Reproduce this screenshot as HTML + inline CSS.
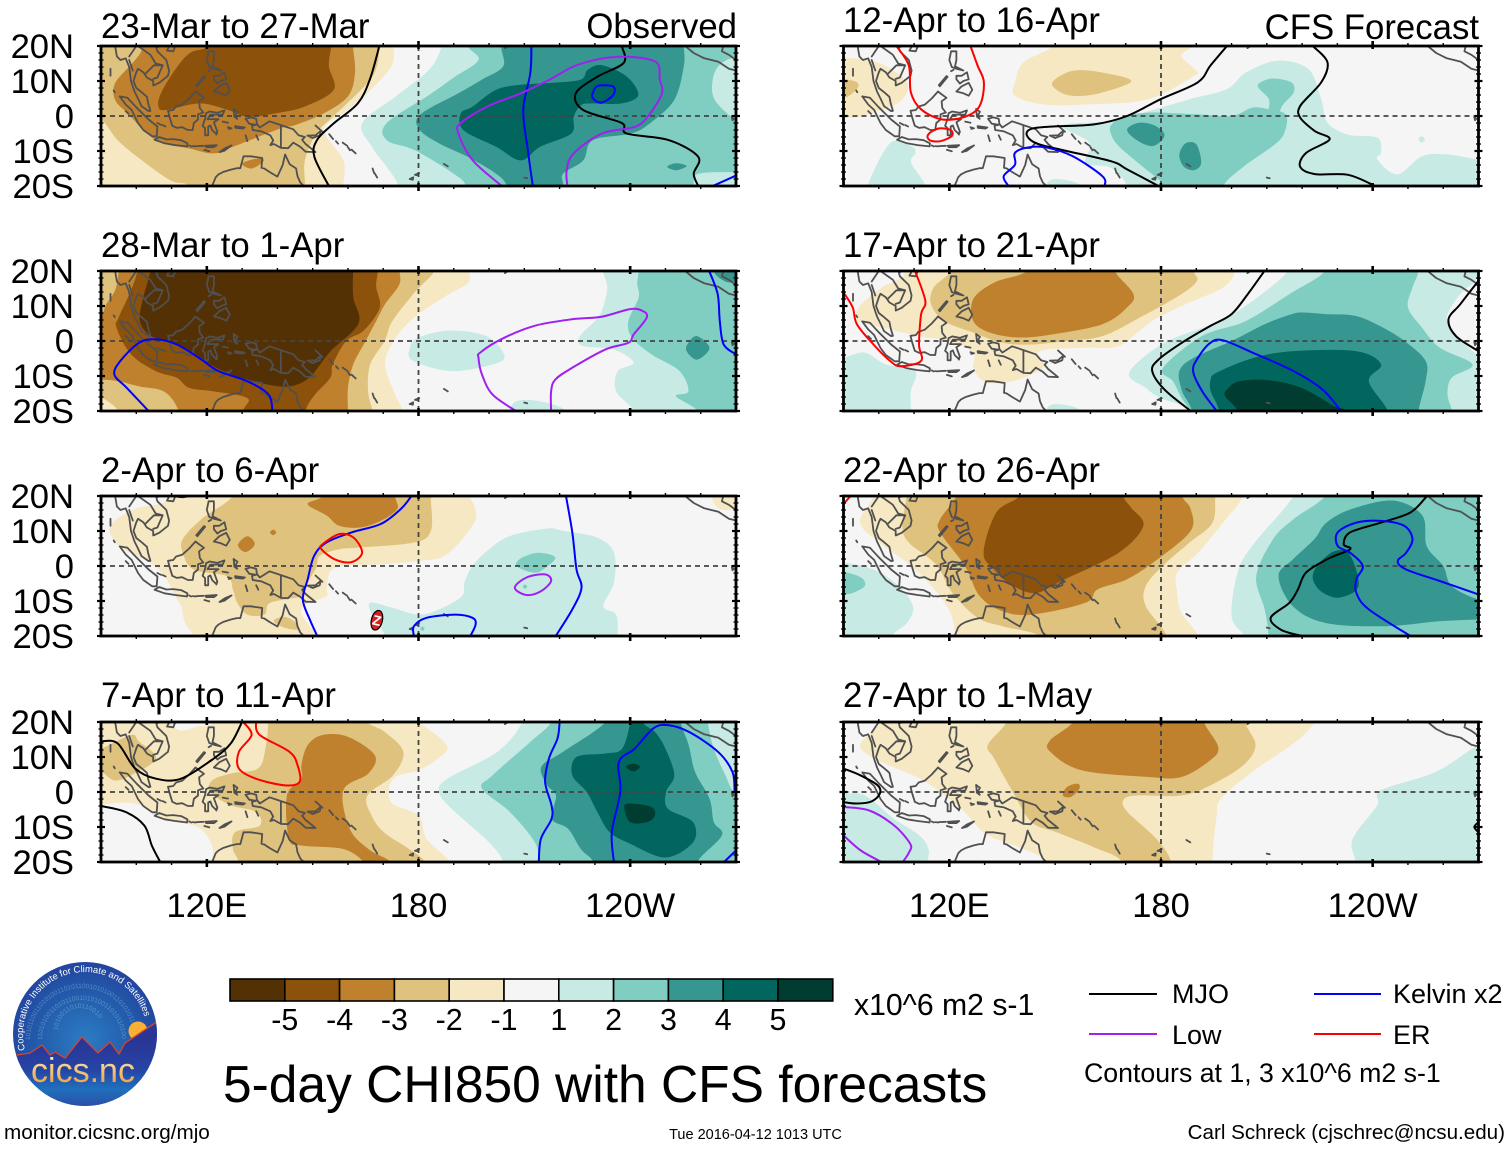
<!DOCTYPE html>
<html lang="en">
<head>
<meta charset="utf-8">
<title>5-day CHI850 with CFS forecasts</title>
<style>
html,body{margin:0;padding:0;background:#fff;}
svg{display:block;font-family:"Liberation Sans",Arial,sans-serif;}
</style>
</head>
<body>
<svg id="chart" xmlns="http://www.w3.org/2000/svg" width="1510" height="1149" viewBox="0 0 1510 1149">
  <defs>
    <clipPath id="logo-clip"><circle cx="85" cy="1034" r="72"/></clipPath>
    <radialGradient id="sky" gradientUnits="userSpaceOnUse" cx="85" cy="1040" r="85">
      <stop offset="0" stop-color="#2c7cc2"/><stop offset="0.6" stop-color="#2259aa"/><stop offset="1" stop-color="#243f9c"/>
    </radialGradient>
    <linearGradient id="ground" gradientUnits="userSpaceOnUse" x1="0" y1="1040" x2="0" y2="1106">
      <stop offset="0" stop-color="#2a3596"/><stop offset="0.45" stop-color="#2544a4"/><stop offset="0.75" stop-color="#1f70bd"/><stop offset="1" stop-color="#2b4ea6"/>
    </linearGradient>
    <linearGradient id="cics" gradientUnits="userSpaceOnUse" x1="0" y1="1056" x2="0" y2="1084">
      <stop offset="0" stop-color="#ffe9a8"/><stop offset="1" stop-color="#eda04a"/>
    </linearGradient>
    <path id="logo-arc" d="M25.1 1050 A62 62 0 1 1 145.4 1020"/>
    <path id="logo-ring-1" d="M30 1040 A52 52 0 1 1 134 1040"/>
    <path id="logo-ring-2" d="M42 1040 A40 40 0 1 1 122 1040"/>
    <path id="logo-ring-3" d="M58 1030 A22 22 0 1 1 102 1030"/>
  </defs>
  <rect x="0" y="0" width="1510" height="1149" fill="#ffffff"/>
  <g id="panels"></g>

  <g>
    <g id="colorbar-cells"></g>
    <g id="colorbar-labels" font-size="30.4" text-anchor="middle" fill="#000"></g>
    <text x="854" y="1015" font-size="30.2">x10^6 m2 s-1</text>
  </g>

  <g font-size="27" fill="#000">
    <line x1="1089" y1="994" x2="1157" y2="994" stroke="#000000" stroke-width="2"/>
    <text x="1172" y="1003">MJO</text>
    <line x1="1089" y1="1034" x2="1157" y2="1034" stroke="#a020f0" stroke-width="2"/>
    <text x="1172" y="1044">Low</text>
    <line x1="1314" y1="994" x2="1381" y2="994" stroke="#0000ff" stroke-width="2"/>
    <text x="1393" y="1003">Kelvin x2</text>
    <line x1="1314" y1="1034" x2="1381" y2="1034" stroke="#ff0000" stroke-width="2"/>
    <text x="1393" y="1044">ER</text>
    <text x="1084" y="1082" font-size="26.7">Contours at 1, 3 x10^6 m2 s-1</text>
  </g>

  <text x="223" y="1102" font-size="51.5" fill="#000">5-day CHI850 with CFS forecasts</text>
  <text x="4" y="1139" font-size="20.7" fill="#000">monitor.cicsnc.org/mjo</text>
  <text x="755.5" y="1139" font-size="14.5" text-anchor="middle" fill="#000">Tue 2016-04-12 1013 UTC</text>
  <text x="1505" y="1139" font-size="20.6" text-anchor="end" fill="#000">Carl Schreck (cjschrec@ncsu.edu)</text>

  <g>
    <g clip-path="url(#logo-clip)">
      <rect x="10" y="960" width="150" height="150" fill="url(#sky)"/>
      <g fill="#9cc3e8" opacity="0.45" font-size="6.5">
        <text><textPath href="#logo-ring-1">1010110011010100110101100101010011010101101001101010</textPath></text>
        <text><textPath href="#logo-ring-2">110101001101011001010100110101101001</textPath></text>
        <text><textPath href="#logo-ring-3">1010011010110010</textPath></text>
      </g>
      <circle cx="138" cy="1031" r="9.5" fill="#fbb034"/>
      <polygon fill="url(#ground)" stroke="#d8452a" stroke-width="1.3" points="10,1056 17,1055 30,1053 42,1045 50,1055 55,1052 65,1058 82,1037 98,1053 110,1042 119,1054 125,1043 158,1021 165,1021 165,1112 10,1112"/>
    </g>
    <text fill="#ffffff" font-size="9.4"><textPath href="#logo-arc">Cooperative Institute for Climate and Satellites</textPath></text>
    <text x="83" y="1082" font-size="34" text-anchor="middle" fill="url(#cics)">cics.nc</text>
  </g>
</svg>

<script>
/* ---------- shared scales and labels ---------- */
const lonMin = 90;
const lonMax = 270;
const latMin = -20;
const latMax = 20;
const lonTickValues = [120, 180, 240];
const lonTickLabels = ["120E", "180", "120W"];
const latTickValues = [20, 10, 0, -10, -20];
const latTickLabels = ["20N", "10N", "0", "10S", "20S"];
const panelTitles = ["23-Mar to 27-Mar", "28-Mar to 1-Apr", "2-Apr to 6-Apr", "7-Apr to 11-Apr", "12-Apr to 16-Apr", "17-Apr to 21-Apr", "22-Apr to 26-Apr", "27-Apr to 1-May"];
const colorLevels = [-6, -5, -4, -3, -2, -1, 1, 2, 3, 4, 5];
const colorValues = ["#543005", "#8c510a", "#bf812d", "#dfc27d", "#f6e8c3", "#f5f5f5", "#c7eae5", "#80cdc1", "#35978f", "#01665e", "#003c30"];
const colorbarLabels = ["-5", "-4", "-3", "-2", "-1", "1", "2", "3", "4", "5"];

/* Shading contours: [level, [lon, lat, lon, lat, ...]]. Level -5 is the darkest brown, 5 darkest green; 0 is neutral. */
const p1Fills = [
 [-1,[85,26,173,26,173,20,172.3,14.2,165.5,6.5,158.7,.8,153.2,-4,158.7,-12.7,158.7,-20,159,-26,85,-26]],
 [-2,[85,-1,90,-1,94.8,-7,101.6,-12.7,109.7,-18.4,115,-20,115,-26,147,-26,147.8,-20,147.8,-12.7,151,-5,156,0,165.5,9.4,168.2,14.2,169,20,170,26,85,26]],
 [-3,[103,26,101.6,19,99,15.2,94,9.4,94,4.6,97.5,.8,105.6,-6.9,115.2,-9.3,122,-10.7,127.4,-8.8,141,-3.5,145,-2.6,153.2,.8,160,5.6,162,12.3,161.4,20,161,26]],
 [-3,[130,-13.6,134,-12.2,136.2,-12.7,132.8,-15]],
 [-4,[122,26,120.6,20,115.2,18,111,13.2,107,6.5,106.3,2.7,108.4,1.7,118,3.6,126,1.7,131.5,-.2,139.6,.8,147.8,2.7,156,7.5,154.6,14.2,155.3,20,156,26]],
 [1,[187,26,186.6,20,183,13.2,173.6,5.6,164,-2,166.8,-8.8,171,-14.6,174.3,-20,174,-26,275,-26,275,26]],
 [2,[194,26,194,20,197,16,190,11,183,6,171,-2,171,-6.9,179,-9.8,190,-16.5,193.4,-20,193,-26,258,-26,258,-20,259.3,-16.5,270,-16,275,-16,275,-1,270,-1,264,4.6,263.4,10.4,265.4,14.7,270,17,275,18,275,26]],
 [3,[205,26,203.5,20,204,14.2,198,10.4,191.3,6.5,180.4,.3,180.4,-4,186,-7.9,194,-11.7,202,-16.5,205,-20,205,-26,220,-26,221,-20,221,-16.5,226.7,-12.7,229.4,-6.9,240.3,-5,245.7,-2,252.5,4.6,255.2,14.2,255.2,20,255,26]],
 [3,[250.5,-14.5,253,-13.5,256,-14.3,253,-15.5]],
 [4,[192,.8,192.7,-4,202,-8.8,209,-12.7,214.5,-8.8,223.3,-5,224,-.2,226,3,228.7,3.6,237.6,3.6,242.3,6,239,11.3,232,14.5,228,13.2,226,10.4,218,9.5,209,8.9,202,7.5,195.4,2.7]]
];
const p2Fills = [
 [-1,[85,26,195,26,194.5,20,194,16.5,188,13,178.5,6.5,173,0,170.5,-6.5,173,-14.5,175.5,-20,176,-26,85,-26]],
 [-2,[85,-14,90,-16,95,-20,97,-26,168,-26,167,-20,165.7,-14.4,166.3,-6.7,170.4,0,172.6,5.7,179,14,184.5,20,185,26,85,26]],
 [-3,[85,-11,90,-11,95,-11.5,101,-13,108,-14.5,112,-20,112,-26,160,-26,160,-20,160,-13.5,161.5,-6.7,165,0,168,5.7,170.5,10.5,174.5,16,174.7,20,175,26,96,26,95,19.5,94,14.5,91.5,10.5,90,7.5,85,6]],
 [-4,[101,26,100.3,20,98.5,14.4,95,6.7,94.4,3.8,98.5,-3.8,105.5,-8.6,111.5,-10.5,115,-13.4,122,-14.4,131.5,-16.3,130.3,-20,130,-26,148,-26,148,-20,150.5,-15.5,155,-10.5,155.7,-6.7,159.5,0,164.5,3,169,9.5,168,15.5,168.5,20,169,26]],
 [-5,[104,26,104,20,102,12.5,101,5.7,104,1.5,109,0,116,-3.3,123.3,-8,131.5,-11,137.5,-12.5,143.3,-13,149,-10.5,155,-3,163,5,161.5,12.5,161.5,20,162,26]],
 [1,[180,1,189,3,199,1.5,204,-3.3,202.5,-6.2,189.5,-8.6,178.5,-5.7,177.5,-2]],
 [1,[206.5,-26,206.5,-18.2,213,-17,222,-20,222,-26]],
 [1,[232,26,232.3,20,233.5,15.3,232.3,9.6,230.5,6.2,225.8,1.4,226.5,-1.4,235.3,-2.4,241,-6.2,236.5,-8.6,236,-14.4,241,-20,241,-26,275,-26,275,26]],
 [2,[242.4,26,242.4,20,242,16.3,242.4,12.4,239.5,5.7,240.5,1,246,-3.8,254,-8.6,256.5,-14.4,253,-15.8,259,-20,259,-26,275,-26,275,26]],
 [3,[259,1.4,262.5,-2,259,-5.3,256,-2.9,256.5,-.5]],
 [3,[263,26,263.6,20,267,17,270,17,275,18,275,26]]
];
const p3Fills = [
 [-1,[110,26,108.5,18.7,99.7,16.3,92.6,11.5,95,5.7,103.2,1.4,108,-2.9,111,-8.6,112.7,-11.5,113.8,-16.3,116.2,-20,116,-26,151.6,-26,151.6,-20,149.2,-17.2,146.8,-13.4,148,-11,154,-8.6,154,-6.7,156.3,-.5,170.4,.5,179.9,1.4,188,3.3,195.8,12.4,195.8,17.2,194.6,20,195,26]],
 [-1,[263,26,263,20,265,16.5,268,16,270,17,275,20,275,26]],
 [-2,[127,26,127.4,20,118.5,13.4,113.2,7.7,113.2,3.8,116.2,-1,125.6,-2.9,127.4,-6.7,128.6,-10.5,131.5,-13.9,136.3,-13.9,138,-10.5,146.8,-8.6,148,-5.7,151,-.5,152,2.9,157.5,4.8,163.4,5.3,178.7,6.7,183.5,10,183.5,19,183,26]],
 [-2,[139,-15.5,142,-14.5,145,-16,146,-18,143.5,-18,140.5,-17]],
 [-3,[153,26,152.7,20,148.6,17.7,154,14.4,157.5,11.5,163.4,11,169.3,12.9,174,16.3,173.4,20,174,26]],
 [-3,[128.8,6,131.5,8.5,133.6,6.2,131,4]],
 [-3,[137.9,9.6,138.8,10.4,139.7,9.6,138.8,8.8]],
 [1,[216.5,10.7,221.2,10,230.7,8.1,235.4,3.8,235.4,-4.8,232.4,-11.5,236,-13.9,236.5,-20,236.5,-26,170.5,-26,170.5,-20,167,-14.4,166.3,-10.5,172.8,-12,180,-13.9,185.8,-12.4,192.3,-8.6,193,-4.8,195.3,0,200,4.8,206,8.6]],
 [2,[207.6,.5,209.4,2.4,214,3.8,218.8,2.4,215.3,-1,213,-1.9,209.4,-1]],
 [2,[209.6,-5.9,210.2,-5.3,210.8,-5.9,210.2,-6.5]],
 [2,[180.5,-17.9,181.1,-17.3,181.7,-17.9,181.1,-18.5]]
];
const p4Fills = [
 [-1,[85,26,171,26,180,20,188,13.4,185.6,9.6,180,6.2,172.8,3.8,172.2,-2.9,180,-6.7,182.3,-13.4,188.8,-20,189,-26,85,-26]],
 [0,[85,-4,90,-3.6,99.7,-3.3,108,-7.7,117.4,-10,121.5,-15.3,121.5,-20,121,-26,85,-26]],
 [0,[108,26,111.5,18,117.4,18.7,122,20,122,26]],
 [-2,[85,12,90,12.4,98.5,16.3,100.8,14.4,105.6,9.6,98.5,4.8,93.8,3.3,90,5.7,85,6]],
 [-2,[137,26,137.4,20,136.6,12.4,134.5,6.7,126.8,5.3,121.5,3.3,121,0,126.8,-3.8,133.9,-5.7,135,-9.6,128,-11.5,127.4,-16.3,129,-20,129,-26,181,-26,181.7,-20,177.3,-16.3,170.2,-11.5,166.7,-6.7,165.5,-1,172.8,4.8,175.7,11.5,170.4,17.2,165.7,20,165,26]],
 [-3,[152.8,16.3,160,15.8,167.6,10.5,165.8,5.3,158.7,.5,160.5,-10.5,165.8,-16.3,171.7,-19.6,172,-22,164,-22,164.5,-20,158.7,-16.3,146.8,-15.3,143.3,-13.4,142.7,-1,146.8,3.8,146.8,7.7,148.6,13.4]],
 [1,[209,26,209.4,20,202.4,11.5,188.2,3.8,185.8,0,189.4,-4.8,200,-14.4,204,-20,204,-26,275,-26,275,26]],
 [2,[217.6,26,217.6,20,211.8,14.4,201,4.8,198,1,205.9,-5.7,213,-14.4,214,-20,214,-26,275,-26,275,0,269.6,0,267,4.8,263.7,12.4,262,20,262,26]],
 [3,[233,26,233,20,221,11.5,214.8,7.2,216.5,1.9,219,-1,217.8,-7.7,222.4,-10.5,226,-16.3,229.5,-20,229.5,-26,259,-26,259,-20,266,-12.4,263.7,-8.6,262.5,-1.9,258.4,5.7,256.6,13.4,254.3,20,254,26]],
 [4,[240,26,240,20,237.7,12.4,233,11,224.8,10,223.6,4.8,227.7,0,230.7,-5.7,234.2,-11.5,240,-14.8,250,-18.7,257.8,-14.4,257.8,-8.6,250.7,-4.8,250.2,0,252.5,4.8,250,12.4,247,17.2,243.6,20,244,26]],
 [5,[238.8,7.2,240.9,8.1,242.8,7.2,240.9,5.9]],
 [5,[238.3,-4.3,240,-3.3,246,-4.3,247,-6.7,244.8,-8.6,240,-8.6]]
];
const p5Fills = [
 [-1,[85,17,90,16.7,99.7,15.3,108,9.6,106.2,4.3,99.7,1.4,93.8,-.3,90,-.5,85,-.5]],
 [-2,[85,10.5,90,10.5,93.8,9.6,93.8,7.7,90,5,85,5]],
 [-1,[149,26,149.2,20,141,15.3,138.6,9.6,138.6,5.7,146.9,3.3,158.7,3.3,176.4,4.8,189.4,11.5,190,12.9,185.8,17.2,188.6,20,189,26]],
 [-2,[149.2,9.6,155,12.9,163.4,12.4,171.6,10,163.4,6.7,156.3,5.7,151.6,6.7]],
 [1,[213,15.8,221.8,13.4,225.4,4.8,227.2,-1.9,233,-5.3,241.3,-6.2,242.4,-10.5,241.3,-12.4,247,-16.7,254,-11.5,261.2,-11,270,-12.4,275,-12.4,275,-26,170,-26,170.4,-20,165.7,-14.8,158.6,-13.4,159.8,-7.7,152.1,-2.7,165.7,-1.4,179.9,2.4,188.1,4.8,198.7,7.7,204,12.4]],
 [1,[96.8,-26,96.8,-20,103.3,-7.7,109.2,-8.6,110.4,-10.5,109.2,-13.4,113.3,-20,113.3,-26]],
 [1,[147.4,-26,147.4,-20,150.3,-18,157.4,-20,157,-26]],
 [1,[253,-6.7,253.9,-5.8,254.8,-6.7,253.9,-7.6]],
 [2,[165.7,-4.8,168,-8.6,175.2,-14.8,181,-20,181,-26,197,-26,197.6,-20,203.5,-14.4,212.8,-7.7,215.3,-3.8,215.3,.5,210.6,1.9,205.9,2.4,200,0,190,.5,177.6,1,169.6,0,166,-2.4]],
 [2,[208.2,9.6,211.8,10.7,217,9.6,217.6,6.7,214.6,3.3,213,.5,210.6,1,210.6,4.8,207.6,8.1]],
 [3,[170.4,-3.8,173.9,-1.9,178.6,-2.9,181,-5.7,177.6,-8.6,172.8,-6.7]],
 [3,[185.2,-11,187,-7.8,190,-8.1,191.4,-13.4,189.3,-15.5,186.4,-14.4]]
];
const p6Fills = [
 [-1,[107,26,107.3,19,100.9,15.3,94.4,9.6,94.4,5.7,103.2,3.3,111.5,1.4,119.7,0,126.8,-3.3,126.8,-7.7,129.8,-11.5,135,-12,141,-10.5,146.9,-7.2,145.7,-2.9,158.7,-1.9,168,-1.4,177.5,5.7,187,10.5,197.6,15.3,201,20,201,26]],
 [-2,[120,26,120.3,20,115.6,15.3,114.8,10.5,118.6,5.7,126.8,2.4,135,-.5,143.3,-1,153,0,163.4,1.4,174,6.7,185.8,13.4,190.2,17.2,189.3,20,189,26]],
 [-3,[142,26,142,20,132.7,16.7,126.8,12,126.8,5.7,131.5,2.4,139.8,1,149.2,1.9,163.4,4.8,170.4,9.6,172.2,13.4,166.9,20,166,26]],
 [1,[85,-26,85,-5,90,-4.8,96,-3.3,102,-6.7,110.3,-8.6,109.1,-14.4,109.1,-20,109,-26]],
 [1,[147.4,-26,147.4,-20,150.3,-18,157.4,-20,157,-26]],
 [1,[216,26,215.9,20,206,11.5,196.6,5.7,181,-.5,171,-9,175.7,-13.4,179.9,-16.3,189.3,-20,189,-26,275,-26,275,-4,270,-4,263.7,1.9,261,6.7,264.8,13.4,268.3,16.3,270,18,275,20,275,26]],
 [2,[226,26,226.5,20,216.4,13.4,204,5.7,191.6,1.4,180.6,-7.7,183.4,-11.5,185.8,-16.3,188,-20,188,-26,262,-26,262.4,-20,261.2,-15.3,262.4,-10.5,268.3,-6.7,259,-1.9,254,3.8,250,9.6,251.3,15.3,253,20,253,26]],
 [3,[220.8,8.1,226.7,7.7,235,7.2,242,4.3,249,0,255,-5.7,255,-11.5,253,-20,253,-26,187,-26,188.7,-20,186,-14.4,185.2,-8.6,189.3,-4.8,200,0,209.4,4.8,217.1,7.7]],
 [4,[194.1,-11,195.9,-9,206.4,-4.8,217.6,-2.9,235.3,-2.9,242.4,-6.7,238.9,-11.5,244.3,-20,244,-26,195,-26,196.4,-20,194.1,-14.4]],
 [5,[198.7,-13.9,202.2,-11.5,210.5,-11.2,219.8,-13.4,229.2,-18.7,232.2,-20,232,-26,201,-26,201.6,-20,198.2,-15.8]]
];
const p7Fills = [
 [-1,[98,26,98.5,20,94.7,12.4,100.8,6.2,107.9,1,115,-5.7,120.3,-13.4,121.5,-20,121,-26,190,-26,190.5,-20,185.8,-13.4,184.6,-7.7,184.6,-1.9,190.5,3.8,197.6,12.4,203.4,20,204,26]],
 [-2,[108,26,107.9,20,106.7,11.5,108.5,6.7,116.2,.5,120.9,-7.7,128,-14.8,135,-17.2,145.7,-20,148,-26,180,-26,181.6,-20,175.7,-11.5,175.7,-5.7,181,.5,188.1,6.7,194.6,12.4,195.4,20,196,26]],
 [-3,[122,26,122,20,117.4,13.4,117.4,9.6,124.4,0,128.6,-8.6,135,-12.9,143.3,-13.9,158.6,-10.5,162,-6.7,170.4,-3.8,179,1.9,188.4,10,188.4,16.3,186,20,186,26]],
 [-4,[140,26,139.8,20,133.3,15.3,129.7,3.8,132.7,-1,137.4,-5.3,144.5,-7.7,152.7,-3.8,168,3.8,175,11.5,171.5,16.7,169.3,20,169,26]],
 [1,[85,1,90,1,98.5,-1,105.6,-5.7,109.7,-11.5,108,-16.3,103.8,-20,103,-26,85,-26]],
 [2,[85,-1.7,90,-1.7,95,-3.3,96,-5.7,92.6,-7.7,90,-8,85,-8]],
 [1,[218,26,217.6,20,205.8,5.7,201.7,-1.9,200,-14.4,203.5,-20,204,-26,275,-26,275,26]],
 [2,[226,26,226.5,20,217.6,13.4,211.8,7.7,207,-2.9,209.4,-12.4,210.5,-20,210,-26,275,-26,275,26]],
 [3,[234.1,16.3,245.9,18.7,254.1,14.4,255.3,5.7,260,0,262.4,-5.7,270,-9.6,275,-9.6,275,-15.3,270,-15.3,258.8,-15.8,243.5,-17.2,226.7,-16.3,217.4,-11.5,213.3,-2.9,217.4,1.9,223.5,7.7,226.9,12.4]],
 [4,[223.2,-1.9,225.4,1.4,229.4,4.3,233.5,3.3,236,-5.7,230.7,-9,226,-7.7,223.4,-4.8]]
];
const p8Fills = [
 [-1,[100,26,100.3,19.5,94.7,13.4,99.7,9.1,112.6,3.3,123.3,-4.8,130.3,-12,139.8,-15.8,148,-20,148,-26,196,-26,194.6,-20,195.8,-6.7,197,-1.9,205.8,5.7,217.6,13.9,223.5,20,224,26]],
 [-2,[136,26,136.2,20,130.9,13.4,132.7,9.6,138,0,143.3,-8.6,150.4,-11.5,161,-15.8,168.7,-19.6,170,-26,182,-26,182.9,-20,178.7,-13.4,170.5,-5.7,169.3,-2.4,172.8,-1,185.8,-1,194,1.9,203.4,7.7,206.8,13.4,204,19.6,204,26]],
 [-3,[155,26,155,20,148.6,14.8,148.6,11.5,157.5,6.2,176.4,4.3,185.8,4.3,194,9.1,196.2,12.9,192.2,20,192,26]],
 [-3,[152.2,-1,153.3,1.4,156.3,2.4,156.9,1,154.5,-1.4]],
 [1,[85,-.5,90,-.5,96.1,-1,104.4,-7.7,111.5,-12.4,114.1,-16.3,113.8,-20,113,-26,85,-26]],
 [1,[275,13.4,270,13.4,257.8,5.7,242.4,.5,241.3,-3.8,235.4,-11.5,234,-15.3,235.2,-20,235,-26,275,-26]]
];

/* Wave-filtered contours: [wave, [lon, lat, ...], closed] */
const p1Lines = [
 ["mjo",[168.9,20,166.2,10.4,162.8,3.6,156,-2.1,151.2,-6.9,150.5,-11.7,154.6,-20],false],
 ["mjo",[237.6,20,238.2,15.2,230.8,11.3,224.6,6.5,226.7,1.7,237.6,-2,239,-5,251,-6.9,259.3,-11.7,258,-16.5,259.3,-20],false],
 ["kelvin",[212,20,211.7,12.3,209.7,1.7,211,-9.8,212.4,-20],false],
 ["kelvin",[229.4,6.5,230.8,8.6,235.2,8.4,235.2,6,231.8,3.8,229.4,5.1],true],
 ["kelvin",[263.4,-20,270,-17],false],
 ["low",[203.6,-20,195.4,-12.7,191.3,-5,192,-2,199.5,2.7,209,6.5,217.2,10.4,225.3,14.7,236.2,16.9,247,15.6,248.4,10.4,249,6.5,245.7,.8,241.6,-3,232,-5,224,-10.7,222,-15.5,222.2,-20],false]
];
const p2Lines = [
 ["kelvin",[103.5,-20,97.3,-13.4,93.8,-9.6,95.5,-5.7,100.8,-.5,105.5,.5,111.5,-1,118.5,-5.3,123.3,-8.6,131.5,-11.5,137.5,-15.3,138.6,-20],false],
 ["kelvin",[262.4,20,264.8,13.4,265.4,5.7,266.5,-1,270,-3.8],false],
 ["low",[207.6,-20,201,-15.3,198,-9.6,197,-4.8,197.5,-3.3,203.4,.5,212.8,4.3,223.5,6.2,231.7,6.9,240,9.1,243.5,8.6,244.7,6.7,241,1.9,239.5,-.5,233,-2.4,223.5,-7.7,218.8,-11,217.6,-14.4,217.6,-20],false]
];
const p3Lines = [
 ["kelvin",[178,20,175,16.3,169.3,12,161,9.6,153.9,6.7,150.4,2.9,148.6,-3.8,147.2,-9.6,149.2,-15.3,151.3,-20],false],
 ["kelvin",[110.5,20,113,19.7,115,20],false],
 ["kelvin",[178.7,-20,178.7,-17.2,182.3,-14.8,190.5,-13.9,195.3,-14.8,196.2,-16.7,194.7,-20],false],
 ["kelvin",[221.8,20,223.6,9.6,224.8,-1,226.2,-6.2,223.6,-12.4,218.9,-20],false],
 ["er",[152.8,6.2,157.5,9.1,161.6,8.1,164,3.8,161,1.1,156.3,1.9,152.5,4.8],true],
 ["low",[207.3,-6.2,210.6,-3.3,215.9,-2.4,217.6,-4.3,214.7,-7.2,210.6,-8.3],true]
];
const p3Storms = [[168.2,-15.5]];
const p4Lines = [
 ["mjo",[90,14.5,94.7,13.9,99.7,6.7,105.6,3.8,112.7,3.8,122,9.6,126.8,13.9,129.8,19.6,130,20],false],
 ["mjo",[90,-4,97,-5.7,102.3,-9.6,104.4,-15.3,106.8,-20],false],
 ["er",[130.3,20,132.7,16.3,129.1,11.5,129.1,6.7,133.9,3.8,142.2,1.9,146.3,2.9,145.7,7.7,143.4,11.5,135,16.3,133.9,20],false],
 ["kelvin",[220,20,219.4,15.3,217,9.6,215.9,2.9,217.7,-3.8,217.7,-7.7,214.7,-13.4,214.1,-20],false],
 ["kelvin",[235.4,-20,234.8,-11.5,237.2,0,236.8,8.6,241.3,12.4,246.6,18.2,250.7,19.1,256.6,17.2,264.9,11.5,269,5.7,269.6,0],false],
 ["kelvin",[266.6,-20,270,-16.7],false]
];
const p5Lines = [
 ["mjo",[198.7,20,194,14.4,190.4,9.6,179.9,4.8,170.4,0,161,-2.4,149.4,-3,143.5,-3.6,141.9,-5.3,144.4,-7.7,151.5,-9.6,165.8,-12.9,170.5,-15.3,179.3,-20],false],
 ["mjo",[223,20,227.2,15.3,225.4,9.6,219.5,2.9,219.5,-.5,223.6,-4.3,227.8,-6.7,221.2,-10.5,219.4,-14.4,223.6,-16.6,233,-16.8,240.7,-20],false],
 ["er",[105,20,108.5,14.4,109.1,6.7,112,1.9,118,-1,124.5,-.2,128.6,2.9,129.8,9.6,128,14.4,126,20],false],
 ["er",[114,-5.3,116.8,-3.6,120.3,-4,120.7,-5.7,117.4,-7.2,114.4,-6.9],true],
 ["kelvin",[136.8,-20,135.4,-17.2,138.6,-13.9,138.6,-10.5,142.7,-8.9,148,-9.1,155,-11.5,163.4,-17.2,164,-20],false]
];
const p6Lines = [
 ["mjo",[209.3,20,204.6,13.4,200,7.7,194,4.3,185.9,-.5,179.3,-5.3,177.5,-8.6,181,-13.9,188.4,-20],false],
 ["mjo",[270,17.2,264.8,10.5,261.5,6.2,263.6,1.4,270,-2.9],false],
 ["kelvin",[195.8,-20,191.7,-14.4,189.1,-8.6,190.5,-4.8,194,-.5,197.6,.2,205.9,-3.3,217.6,-8.6,225.8,-13.9,231,-20],false],
 ["er",[90,13.9,92.6,9.6,93.8,4.8,98.5,-1,103.2,-5.7,106.2,-7.2,112,-5.7,111.4,-1,112,7.7,113.2,11.5,110.3,20],false]
];
const p7Lines = [
 ["mjo",[255.4,20,250.7,15.3,242.4,12.4,233.6,9.6,231.8,6.2,233.6,4.8,227,1.9,221.1,-1.9,218.8,-6.7,216.4,-10.5,211.1,-14.8,214,-18.2,220,-20],false],
 ["kelvin",[250.7,-20,238.9,-12.4,235.4,-7.7,235.4,-3.8,237.2,0,233.6,3.8,230.1,5.7,230.1,9.6,235.4,12.4,242.4,12.9,248.9,11.5,251.3,7.7,249.5,3.8,247.1,1.4,249.5,-1,259,-4.3,270,-8.1],false],
 ["er",[90,17.7,92,20],false]
];
const p8Lines = [
 ["mjo",[90,6.7,94.7,4.8,99.7,1.9,100.3,-.5,97.9,-2.7,93.8,-3.3,90,-2.9],false],
 ["mjo",[270,-8.6,268.8,-10,270,-11.5],false],
 ["low",[90,-4.3,97.3,-5.3,104.4,-9.6,108.9,-14.8,108.6,-17.2,106.8,-20],false],
 ["low",[90,-12.4,94.9,-16.7,100.8,-20],false]
];

const waveColors = {mjo:"#000000", kelvin:"#0000ff", low:"#a020f0", er:"#ff0000"};

/* Coastlines: [lon, lat, ...] */
const coastSegments = [
 [94,20,94.5,17,95.5,16,97,16.5,98,14,98.5,10,99.5,7,100.5,5,101.5,2.8,103.5,1.4,104,1.5,103.4,3.5,103,5.5,101.5,6.8,100,8,99.2,10,100,12.5,100.5,13.5,102,12.5,103,11,104.8,10,104.8,8.7,106.5,9.5,109,11.5,109.3,13,108.5,16,106,18.5,105.7,19.5,106.5,20,108,21.5],
 [98,17,100,20],[102.5,12,105,14.5,107.5,14.5],[100.5,20,104,17.5,105.5,15,107.5,14.5,106,11,104.8,10.6],[98,16,99,13],
 [108.7,18.7,110.5,18.5,111,19.8,109.5,20.2,108.7,18.7],
 [92.7,13.5,92.7,11.5],[93.6,7.3,93.9,6.8],
 [95.3,5.6,97.5,5.2,100,2.5,103.5,-1,106,-3,105.8,-5.8,104.5,-5.8,102,-4,100.5,-2,98.7,1.7,97,3.3,95.3,5.6],
 [97,1.4,97.8,.6],[106,-2,107,-2.5],[107.5,-2.6,108.3,-3],
 [105.2,-6.8,106.5,-6,108.5,-6.7,110.5,-6.6,112.7,-6.9,114.5,-7.8,114.4,-8.7,111,-8.3,108,-7.8,105.2,-6.8],
 [115,-8.4,115.6,-8.7],[116,-8.6,116.9,-8.7],[117,-8.6,119,-8.5],[119.5,-8.5,122.8,-8.3,122,-8.9,119.8,-8.9],
 [119.3,-9.7,120.7,-10.1],[123.6,-10.3,125,-9.3,127,-8.4,125,-9.9,123.6,-10.3],
 [109,1.5,110.5,1.7,111.3,2.7,113,3.2,115,5,116.8,7,117.7,6.3,119.2,5.2,117.8,4.2,118,2.3,119,1,117.5,.5,117.5,-1,116.3,-2,116,-4,114.6,-4,113,-3.2,111.5,-3.4,110.2,-2.8,109.5,-.5,109,1.5],
 [119.8,.8,120.8,1.3,123,.9,125,1.6,124.5,.4,121,.4,120.2,-.9,121.5,-.9,123.3,-.9,122,-1.8,122.5,-3.2,123,-4.5,122.5,-5,121.5,-4,121,-2.7,120.4,-3,120.4,-5.5,119.5,-5.5,119.5,-3.5,118.8,-2.8,119.5,-.8,119.8,.8],
 [122.9,-4.6,122.7,-5.3],
 [127.6,2,128.7,1.2,128.1,.2,128.6,-.8,127.8,-.2,127.7,1,127.6,2],
 [126,-3.2,127,-3.5,126.2,-3.7],[128,-2.9,130.8,-3.3,130.2,-3.6,128.1,-3.4,128,-2.9],
 [124.5,-1.6,126,-1.9],[131,-5.5,131.5,-7.2],[134,-5.5,134.6,-6.8],
 [131,-.8,132.5,-.4,134,-.8,134.2,-2.3,135,-3.3,137.8,-1.5,141,-2.6,144.5,-3.8,146,-5.5,147.8,-6,147,-6.8,148,-8,150.8,-10.3,148,-10.2,146.5,-8.8,144.5,-7.6,143,-9.2,141,-9.1,139,-8,138,-8.3,138.8,-7,138,-5.5,135.5,-4.4,133,-4,132.8,-2.8,134,-2.5,132,-2.2,131,-.8],
 [141,-2.6,141,-9.1],
 [148.5,-5.6,150.8,-5.5,152.3,-4.2,152,-5.5,150,-6.3,148.5,-5.6],[150.8,-2.7,152.8,-4.5],
 [154.7,-5.2,155.8,-6.6],[156.6,-7.2,157.2,-7.9],[158.5,-7.6,159.8,-8.5],[160,-8.9,160.6,-9.8],[161,-9.6,162.2,-10.7],
 [167,-15,167.4,-16.3],[167.6,-16.4,168.3,-17.6],
 [177.5,-18,178.5,-17.5,178.4,-18.2,177.5,-18],[179,-16.8,180.2,-16.3,179.7,-16.9,179,-16.8],
 [187.2,-13.7,188.3,-14.4],[210,-17.6,210.8,-17.8],[204.5,19.4,205.2,19.9,205.2,20],
 [121.5,-20,122.5,-17.5,123.3,-16.7,124.6,-16,126.8,-15.3,128.5,-14.9,129.5,-14.9,130.4,-11.5,132.5,-11.5,135.7,-12,135.5,-14.8,136.3,-15,137.8,-16,140,-17.3,141.5,-14,142.2,-11,143.5,-13.8,145.3,-15,145.7,-17.2,146.5,-19,147.5,-20],
 [120.5,18.5,122,18.5,122,16,121.6,14.2,124,13,122,13.5,120.7,14,120,16,120.5,18.5],
 [122,7,123.5,8.5,125.5,9.5,126.5,7.5,125.5,5.8,124,6.5,122,7],
 [122,11.5,123.5,11.5,125,12.5,125.5,10.5,124,10,123,9.3,122,10.5,122,11.5],
 [117.3,8.5,119.5,11.2,119.2,11.4,117,8.8],[120.5,12.8,121.2,13.2],
 [120,20,121,22],
 [255,20.5,258,18,261,16.5,265,15.5,268,13.5,270,13],[270,16,268,17.5,266,18.5,266.5,20.5],
 [268.8,-.3,269.4,-.8,269,-1.2,268.8,-.3]
];

/* ---------- scales and drawing helpers ---------- */
const svgNS = "http://www.w3.org/2000/svg";
const panelWidth = 635;
const panelHeight = 140;
const panelOrigins = [[101,46],[101,271],[101,496],[101,722],[843.5,46],[843.5,271],[843.5,496],[843.5,722]];
const titleBaselines = [38,257,482,707,32,257,482,707];
const panelFillSets = [p1Fills,p2Fills,p3Fills,p4Fills,p5Fills,p6Fills,p7Fills,p8Fills];
const panelLineSets = [p1Lines,p2Lines,p3Lines,p4Lines,p5Lines,p6Lines,p7Lines,p8Lines];

function xScale(panel, lon){ return panel[0] + (lon - lonMin) * panelWidth / (lonMax - lonMin); }
function yScale(panel, lat){ return panel[1] + (latMax - lat) * panelHeight / (latMax - latMin); }
function levelColor(level){
  if (level === 0) return "#f5f5f5";
  const key = level < 0 ? level - 1 : level;
  return colorValues[colorLevels.indexOf(key)];
}
function toPixels(panel, coords){
  const out = [];
  for (let i = 0; i < coords.length; i += 2) out.push([xScale(panel, coords[i]), yScale(panel, coords[i + 1])]);
  return out;
}
function smoothPath(pts, closed){
  const n = pts.length;
  const at = i => closed ? pts[(i + n) % n] : pts[Math.max(0, Math.min(n - 1, i))];
  let d = "M" + pts[0][0].toFixed(1) + " " + pts[0][1].toFixed(1);
  const last = closed ? n : n - 1;
  for (let i = 0; i < last; i++) {
    const p0 = at(i - 1), p1 = at(i), p2 = at(i + 1), p3 = at(i + 2);
    const c1x = p1[0] + (p2[0] - p0[0]) / 6, c1y = p1[1] + (p2[1] - p0[1]) / 6;
    const c2x = p2[0] - (p3[0] - p1[0]) / 6, c2y = p2[1] - (p3[1] - p1[1]) / 6;
    d += "C" + c1x.toFixed(1) + " " + c1y.toFixed(1) + " " + c2x.toFixed(1) + " " + c2y.toFixed(1) + " " + p2[0].toFixed(1) + " " + p2[1].toFixed(1);
  }
  return closed ? d + "Z" : d;
}
function straightPath(pts){
  return "M" + pts.map(p => p[0].toFixed(1) + " " + p[1].toFixed(1)).join("L");
}
function addLine(parent, x1, y1, x2, y2, stroke, width, dash){
  const el = document.createElementNS(svgNS, "line");
  el.setAttribute("x1", x1);
  el.setAttribute("y1", y1);
  el.setAttribute("x2", x2);
  el.setAttribute("y2", y2);
  el.setAttribute("stroke", stroke);
  el.setAttribute("stroke-width", width);
  if (dash) el.setAttribute("stroke-dasharray", dash);
  parent.appendChild(el);
  return el;
}
function addText(parent, x, y, str, size, anchor){
  const el = document.createElementNS(svgNS, "text");
  el.setAttribute("x", x);
  el.setAttribute("y", y);
  el.setAttribute("font-size", size);
  el.setAttribute("text-anchor", anchor);
  el.setAttribute("fill", "#000");
  el.textContent = str;
  parent.appendChild(el);
  return el;
}

/* ---------- panels ---------- */
const panelsRoot = document.getElementById("panels");
const defsRoot = document.querySelector("svg defs");
panelOrigins.forEach(function(panel, idx){
  const group = document.createElementNS(svgNS, "g");
  
  
  panelsRoot.appendChild(group);

  const clip = document.createElementNS(svgNS, "clipPath");
  clip.setAttribute("id", "clip-" + idx);
  const clipRect = document.createElementNS(svgNS, "rect");
  clipRect.setAttribute("x", panel[0]);
  clipRect.setAttribute("y", panel[1]);
  clipRect.setAttribute("width", panelWidth);
  clipRect.setAttribute("height", panelHeight);
  clip.appendChild(clipRect);
  defsRoot.appendChild(clip);

  const plot = document.createElementNS(svgNS, "g");
  plot.setAttribute("clip-path", "url(#clip-" + idx + ")");
  
  
  group.appendChild(plot);

  const bg = document.createElementNS(svgNS, "rect");
  bg.setAttribute("x", panel[0]);
  bg.setAttribute("y", panel[1]);
  bg.setAttribute("width", panelWidth);
  bg.setAttribute("height", panelHeight);
  bg.setAttribute("fill", "#f5f5f5");
  
  
  plot.appendChild(bg);

  panelFillSets[idx].forEach(function(fillDef){
    const el = document.createElementNS(svgNS, "path");
    el.setAttribute("d", smoothPath(toPixels(panel, fillDef[1]), true));
    el.setAttribute("fill", levelColor(fillDef[0]));
    
    
    plot.appendChild(el);
  });

  const coast = document.createElementNS(svgNS, "path");
  coast.setAttribute("d", coastSegments.map(seg => straightPath(toPixels(panel, seg))).join(""));
  coast.setAttribute("fill", "none");
  coast.setAttribute("stroke", "#505050");
  coast.setAttribute("stroke-width", "1.8");
  coast.setAttribute("stroke-linejoin", "round");
  coast.setAttribute("stroke-linecap", "round");
  
  
  plot.appendChild(coast);

  const eq = addLine(plot, panel[0], yScale(panel, 0), panel[0] + panelWidth, yScale(panel, 0), "#444444", 1.8, "5 4");
  
  
  const dl = addLine(plot, xScale(panel, 180), panel[1], xScale(panel, 180), panel[1] + panelHeight, "#444444", 1.8, "5 4");
  
  

  panelLineSets[idx].forEach(function(lineDef){
    const el = document.createElementNS(svgNS, "path");
    el.setAttribute("d", smoothPath(toPixels(panel, lineDef[1]), lineDef[2]));
    el.setAttribute("fill", "none");
    el.setAttribute("stroke", waveColors[lineDef[0]]);
    el.setAttribute("stroke-width", "2");
    
    
    plot.appendChild(el);
  });

  if (idx === 2) {
    p3Storms.forEach(function(storm){
      const sx = xScale(panel, storm[0]);
      const sy = yScale(panel, storm[1]);
      const marker = document.createElementNS(svgNS, "g");
      marker.setAttribute("transform", "translate(" + sx + " " + sy + ") rotate(14)");
      
      
      const oval = document.createElementNS(svgNS, "ellipse");
      oval.setAttribute("rx", "5.5");
      oval.setAttribute("ry", "10");
      oval.setAttribute("fill", "#d81e1e");
      oval.setAttribute("stroke", "#000");
      oval.setAttribute("stroke-width", "1.2");
      marker.appendChild(oval);
      const zed = document.createElementNS(svgNS, "text");
      zed.setAttribute("y", "5");
      zed.setAttribute("font-size", "14");
      zed.setAttribute("font-weight", "bold");
      zed.setAttribute("text-anchor", "middle");
      zed.setAttribute("fill", "#fff");
      zed.textContent = "Z";
      marker.appendChild(zed);
      plot.appendChild(marker);
    });
  }

  const axes = document.createElementNS(svgNS, "g");
  
  
  group.appendChild(axes);
  for (let lon = lonMin + 10; lon < lonMax; lon += 10) {
    const isMajor = lonTickValues.indexOf(lon) >= 0;
    const x = xScale(panel, lon);
    const reach = isMajor ? 5 : 3;
    addLine(axes, x, panel[1] - reach, x, panel[1] + (isMajor ? 3 : 0), "#000", isMajor ? 2.6 : 1.4);
    addLine(axes, x, panel[1] + panelHeight - (isMajor ? 3 : 0), x, panel[1] + panelHeight + reach, "#000", isMajor ? 2.6 : 1.4);
  }
  for (let lat = latMin; lat <= latMax; lat += 2) {
    const isMajor = lat % 10 === 0;
    const y = yScale(panel, lat);
    const reach = isMajor ? 4 : 2.5;
    addLine(axes, panel[0] - reach, y, panel[0] + reach, y, "#000", isMajor ? 2.2 : 1.3);
    addLine(axes, panel[0] + panelWidth - reach, y, panel[0] + panelWidth + reach, y, "#000", isMajor ? 2.2 : 1.3);
  }
  const frame = document.createElementNS(svgNS, "rect");
  frame.setAttribute("x", panel[0]);
  frame.setAttribute("y", panel[1]);
  frame.setAttribute("width", panelWidth);
  frame.setAttribute("height", panelHeight);
  frame.setAttribute("fill", "none");
  frame.setAttribute("stroke", "#000");
  frame.setAttribute("stroke-width", "2.8");
  
  
  axes.appendChild(frame);

  const isLeft = idx < 4;
  const row = idx % 4;
  if (isLeft) {
    latTickValues.forEach(function(lat, i){
      const t = addText(axes, 74, yScale(panel, lat) + 12, latTickLabels[i], 34.6, "end");
      
      
    });
  }
  if (row === 3) {
    lonTickValues.forEach(function(lon, i){
      const t = addText(axes, xScale(panel, lon), 917, lonTickLabels[i], 34.5, "middle");
      
      
    });
  }
  const title = addText(group, isLeft ? 101 : 843, titleBaselines[idx], panelTitles[idx], 34.75, "start");
  
  
});

const obsTag = addText(panelsRoot, 737, 38, "Observed", 34.75, "end");


const fcstTag = addText(panelsRoot, 1479, 39, "CFS Forecast", 34.75, "end");



/* ---------- colorbar ---------- */
const cbCells = document.getElementById("colorbar-cells");
const cbLabels = document.getElementById("colorbar-labels");
const cbLeft = 230;
const cbStep = 54.8;
colorValues.forEach(function(color, i){
  const cell = document.createElementNS(svgNS, "rect");
  cell.setAttribute("x", cbLeft + i * cbStep);
  cell.setAttribute("y", 979);
  cell.setAttribute("width", cbStep);
  cell.setAttribute("height", 22);
  cell.setAttribute("fill", color);
  cell.setAttribute("stroke", "#000");
  cell.setAttribute("stroke-width", "1.6");
  
  
  cbCells.appendChild(cell);
});
colorbarLabels.forEach(function(label, i){
  const t = document.createElementNS(svgNS, "text");
  t.setAttribute("x", cbLeft + (i + 1) * cbStep);
  t.setAttribute("y", 1030);
  
  
  t.textContent = label;
  cbLabels.appendChild(t);
});
</script>
</body>
</html>
